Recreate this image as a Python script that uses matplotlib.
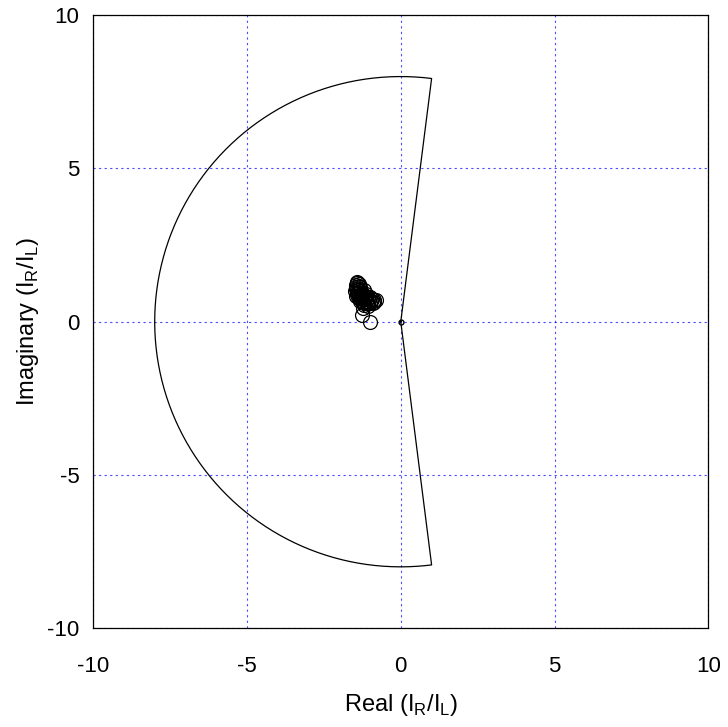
import numpy as np
import matplotlib
matplotlib.use("Agg")
import matplotlib.pyplot as plt

plt.rcParams['font.family'] = ['Liberation Sans', 'DejaVu Sans']
plt.rcParams['axes.unicode_minus'] = False

# Nyquist-style boundary: radius and angular extent of the arc
radius = 8.0
theta_start_deg = 82.8
theta_end_deg = 277.2

# eigenvalue loci (real, imag)
re_pts = [-1.43, -1.37, -1.46, -1.49, -1.43, -1.33, -1.27, -1.17, -1.07, -0.94,
          -0.81, -0.91, -1.01, -1.14, -1.27, -1.40, -1.33, -1.20, -1.07, -1.24,
          -1.45, -1.38, -1.30, -0.88, -1.27, -1.01,
          -1.41, -1.35, -1.47, -1.39, -1.31, -1.22, -1.12, -1.02, -0.97, -0.86,
          -1.36, -1.29, -1.18, -1.10, -1.44, -1.32, -1.25, -1.15, -1.05, -1.42,
          -1.34, -1.21, -1.12, -0.99]
im_pts = [1.30, 1.24, 1.14, 1.01, 0.91, 1.08, 0.95, 0.85, 0.78, 0.75,
          0.72, 0.62, 0.62, 0.68, 0.75, 0.82, 0.68, 0.55, 0.52, 0.46,
          1.20, 1.05, 0.80, 0.65, 0.23, 0.00,
          1.27, 1.18, 1.07, 0.97, 1.00, 0.90, 0.80, 0.70, 0.68, 0.70,
          0.88, 0.72, 0.62, 0.60, 0.85, 0.78, 0.84, 0.74, 0.60, 0.95,
          1.12, 1.02, 0.92, 0.82]

ticks = [-10, -5, 0, 5, 10]

fig = plt.figure(figsize=(7.28, 7.27), dpi=100)
ax = fig.add_axes([0.128, 0.136, 0.845, 0.843])

th = np.radians(np.linspace(theta_start_deg, theta_end_deg, 400))
bx = np.concatenate([[0], radius * np.cos(th), [0]])
by = np.concatenate([[0], radius * np.sin(th), [0]])
ax.plot(bx, by, color='black', lw=0.9)

ax.plot(re_pts, im_pts, 'o', mfc='none', mec='black', ms=10, mew=0.9)
ax.plot([0], [0], 'o', mfc='none', mec='black', ms=3.5, mew=1.0)

ax.set_xlim(-10, 10)
ax.set_ylim(-10, 10)
ax.set_xticks(ticks)
ax.set_yticks(ticks)
ax.tick_params(length=0, labelsize=16)
ax.tick_params(axis='x', pad=20)
ax.tick_params(axis='y', pad=10)
ax.grid(True, color='blue', linestyle=(0, (2, 3)), linewidth=0.8, alpha=0.7)
for s in ax.spines.values():
    s.set_linewidth(0.9)

ax.set_xlabel(r'Real (I$_\mathregular{R}$/I$_\mathregular{L}$)', fontsize=17, labelpad=11)
ax.set_ylabel(r'Imaginary (I$_\mathregular{R}$/I$_\mathregular{L}$)', fontsize=17, labelpad=4)

fig.savefig('out.png', dpi=100)
